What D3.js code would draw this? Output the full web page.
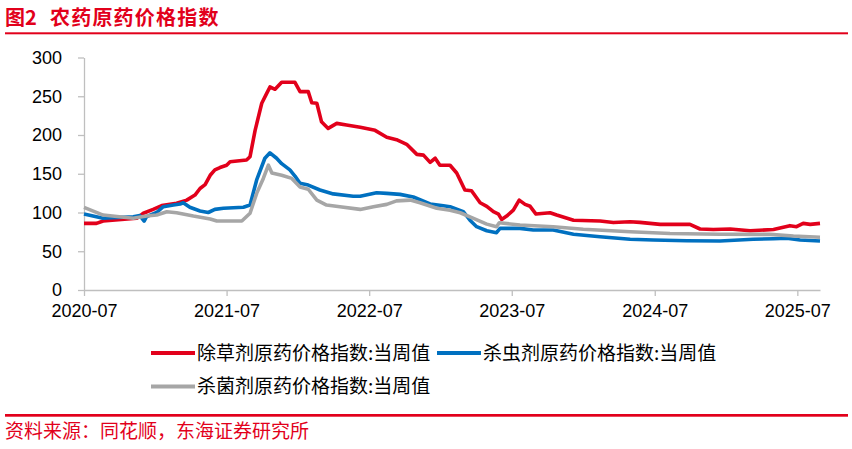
<!DOCTYPE html>
<html>
<head>
<meta charset="utf-8">
<script src="https://cdn.jsdelivr.net/npm/d3@7"></script>
<style>
  body { margin: 0; background: #fff; }
  svg { display: block; }
</style>
</head>
<body>
<svg id="chart"></svg>
<script>
// Define the dimensions for the svg
const width = 852;
const height = 449;

// Weekly index values (date, value)
const herbicide = [
  ["2020-07-01", 86], ["2020-08-02", 86], ["2020-08-19", 89], ["2020-11-13", 92.5],
  ["2020-11-30", 99], ["2020-12-25", 104], ["2021-01-16", 109], ["2021-02-23", 112],
  ["2021-03-21", 116], ["2021-04-11", 122.5], ["2021-04-24", 131], ["2021-05-07", 136],
  ["2021-05-20", 148], ["2021-06-01", 155], ["2021-06-14", 158], ["2021-07-01", 161],
  ["2021-07-10", 165.5], ["2021-08-21", 167.7], ["2021-08-30", 172], ["2021-09-12", 206],
  ["2021-09-29", 241], ["2021-10-12", 254], ["2021-10-20", 262], ["2021-11-02", 259],
  ["2021-11-19", 268], ["2021-12-23", 268], ["2022-01-05", 256], ["2022-01-26", 256],
  ["2022-02-04", 241.6], ["2022-02-17", 241], ["2022-03-01", 217], ["2022-03-18", 208.5],
  ["2022-04-09", 215], ["2022-05-04", 213], ["2022-06-08", 210], ["2022-07-16", 206],
  ["2022-08-15", 197], ["2022-09-09", 194], ["2022-10-05", 188], ["2022-10-31", 175],
  ["2022-11-17", 174], ["2022-12-04", 164.7], ["2022-12-17", 170], ["2022-12-29", 161],
  ["2023-01-24", 161], ["2023-02-10", 151], ["2023-03-03", 129], ["2023-03-20", 128],
  ["2023-04-11", 112.6], ["2023-04-28", 108], ["2023-05-15", 101], ["2023-05-28", 98],
  ["2023-06-05", 91], ["2023-06-18", 95.4], ["2023-07-05", 103], ["2023-07-20", 116],
  ["2023-08-04", 110.5], ["2023-08-17", 108], ["2023-09-01", 98], ["2023-10-07", 99.7],
  ["2023-10-24", 96.7], ["2023-12-06", 90], ["2024-02-12", 89], ["2024-03-17", 87],
  ["2024-04-29", 88], ["2024-05-24", 87.3], ["2024-07-15", 84.7], ["2024-09-29", 84.7],
  ["2024-10-25", 78.7], ["2024-11-28", 78], ["2025-01-10", 78.7], ["2025-03-02", 76.5],
  ["2025-05-01", 78], ["2025-06-12", 83], ["2025-06-29", 81.7], ["2025-07-16", 86],
  ["2025-08-03", 84.7], ["2025-08-28", 86]
];

const insecticide = [
  ["2020-07-01", 98], ["2020-08-19", 92.5], ["2020-11-04", 94.6], ["2020-11-21", 96],
  ["2020-12-02", 89], ["2020-12-08", 94.6], ["2021-01-03", 100], ["2021-01-20", 107.5],
  ["2021-02-15", 109.6], ["2021-03-04", 111], ["2021-03-12", 112.6], ["2021-03-29", 106.7],
  ["2021-04-24", 102], ["2021-05-15", 100], ["2021-06-01", 104], ["2021-06-23", 105.4],
  ["2021-08-13", 106.7], ["2021-08-30", 109.6], ["2021-09-16", 142], ["2021-10-07", 170],
  ["2021-10-20", 177], ["2021-11-06", 170], ["2021-11-19", 163], ["2021-12-10", 155],
  ["2021-12-23", 147], ["2022-01-05", 137.6], ["2022-01-26", 135.4], ["2022-02-25", 129],
  ["2022-03-31", 124], ["2022-05-21", 121], ["2022-06-08", 121], ["2022-07-20", 125.5],
  ["2022-08-15", 124.7], ["2022-09-18", 123.4], ["2022-10-22", 120], ["2022-12-04", 111],
  ["2023-01-07", 108.7], ["2023-01-24", 107.5], ["2023-02-27", 101], ["2023-03-16", 90],
  ["2023-04-02", 81.7], ["2023-04-28", 76.5], ["2023-05-23", 74], ["2023-06-01", 79.5],
  ["2023-07-22", 79.5], ["2023-08-25", 77.4], ["2023-10-15", 77.4], ["2023-12-06", 72],
  ["2024-02-12", 68.8], ["2024-04-29", 65.4], ["2024-06-27", 64.5], ["2024-09-21", 63.6],
  ["2024-12-15", 63.2], ["2025-03-10", 65.4], ["2025-05-01", 66.2], ["2025-06-04", 66.7],
  ["2025-07-08", 64.5], ["2025-08-28", 63.2]
];

const fungicide = [
  ["2020-07-01", 106.7], ["2020-08-19", 96.7], ["2020-11-04", 92.5], ["2020-12-08", 95.4],
  ["2021-01-03", 96.7], ["2021-01-29", 101], ["2021-02-23", 99.7], ["2021-04-07", 95.4],
  ["2021-05-20", 91.6], ["2021-06-06", 89], ["2021-08-09", 89], ["2021-08-30", 99],
  ["2021-09-16", 124.7], ["2021-10-03", 144], ["2021-10-16", 161], ["2021-10-25", 151],
  ["2021-11-19", 148], ["2021-12-15", 144], ["2022-01-05", 133], ["2022-01-26", 130],
  ["2022-02-17", 116], ["2022-03-14", 109.6], ["2022-04-17", 107.5], ["2022-06-08", 104],
  ["2022-07-12", 107.5], ["2022-08-15", 110.5], ["2022-09-09", 115], ["2022-10-14", 116],
  ["2022-11-08", 112.6], ["2022-12-21", 105.4], ["2023-01-24", 103], ["2023-02-19", 99.7],
  ["2023-03-25", 92.5], ["2023-04-28", 85], ["2023-05-23", 81.7], ["2023-05-30", 86.8],
  ["2023-07-22", 83.8], ["2023-10-15", 81.7], ["2023-12-31", 78.3], ["2024-04-29", 75.2],
  ["2024-08-09", 73], ["2024-12-15", 72], ["2025-04-22", 71.8], ["2025-06-21", 69.6],
  ["2025-08-28", 68]
];

const seriesNames = ["除草剂原药价格指数:当周值", "杀虫剂原药价格指数:当周值", "杀菌剂原药价格指数:当周值"];
const seriesColors = ["#e2001b", "#0070c0", "#a6a6a6"];
const yTicks = [0, 50, 100, 150, 200, 250, 300];
const xTickLabels = ["2020-07", "2021-07", "2022-07", "2023-07", "2024-07", "2025-07"];

const parseDate = d3.timeParse("%Y-%m-%d");
const parseMonth = d3.timeParse("%Y-%m");

const svg = d3.select("#chart")
    .attr("width", width)
    .attr("height", height);

// Title and rules
const title = svg.append("text")
    .attr("x", 5).attr("y", 25)
    .attr("fill", "#e2001b")
    .style("font-family", "'Noto Sans CJK SC', sans-serif")
    .style("font-weight", "bold")
    .style("font-size", "20px");
title.append("tspan").text("图2");
title.append("tspan").attr("x", 50).style("letter-spacing", "1.2px").text("农药原药价格指数");

svg.append("rect").attr("x", 5).attr("y", 32.3).attr("width", 843).attr("height", 2).attr("fill", "#e2001b");
svg.append("rect").attr("x", 5).attr("y", 414).attr("width", 843).attr("height", 2.7).attr("fill", "#e2001b");

svg.append("text")
    .attr("x", 5).attr("y", 438)
    .attr("fill", "#e2001b")
    .style("font-family", "'Noto Sans CJK SC', sans-serif")
    .style("font-size", "19px")
    .text("资料来源：同花顺，东海证券研究所");

// Scales
const x = d3.scaleTime()
    .domain([parseDate("2020-07-01"), parseDate("2025-08-28")])
    .range([84, 820]);

const y = d3.scaleLinear()
    .domain([0, 300])
    .range([290, 57.5]);

// Axes
const yAxis = svg.append("g")
    .attr("transform", "translate(84,0)")
    .call(d3.axisLeft(y).tickValues(yTicks).tickSize(6).tickPadding(16).tickSizeOuter(0));

const xAxis = svg.append("g")
    .attr("transform", "translate(0,290)")
    .call(d3.axisBottom(x)
        .tickValues(xTickLabels.map(parseMonth))
        .tickFormat(d3.timeFormat("%Y-%m"))
        .tickSize(6).tickPadding(8).tickSizeOuter(0));

[yAxis, xAxis].forEach(g => {
    g.select(".domain").attr("stroke", "#bfbfbf").attr("stroke-width", 1.3);
    g.selectAll(".tick line").attr("stroke", "#bfbfbf").attr("stroke-width", 1.3);
    g.selectAll(".tick text")
        .attr("fill", "#000")
        .style("font-family", "'Liberation Sans', Arial, sans-serif")
        .style("font-size", "18px");
});

// Lines
const line = d3.line()
    .x(d => x(parseDate(d[0])))
    .y(d => y(d[1]));

[herbicide, insecticide, fungicide].forEach((series, i) => {
    svg.append("path")
        .datum(series)
        .attr("fill", "none")
        .attr("stroke", seriesColors[i])
        .attr("stroke-width", 3.6)
        .attr("stroke-linejoin", "round")
        .attr("d", line);
});

// Legend
const legendItems = [
    { x: 151, y: 353 },
    { x: 437, y: 353 },
    { x: 151, y: 386.5 }
];

legendItems.forEach((p, i) => {
    const g = svg.append("g").attr("transform", `translate(${p.x},${p.y})`);
    g.append("line")
        .attr("x1", 0).attr("x2", 44)
        .attr("stroke", seriesColors[i])
        .attr("stroke-width", 4);
    g.append("text")
        .attr("x", 46).attr("y", 0).attr("dy", "0.36em")
        .attr("fill", "#000")
        .style("font-family", "'Noto Sans CJK SC', sans-serif")
        .style("font-size", "19px")
        .text(seriesNames[i]);
});
</script>
</body>
</html>
